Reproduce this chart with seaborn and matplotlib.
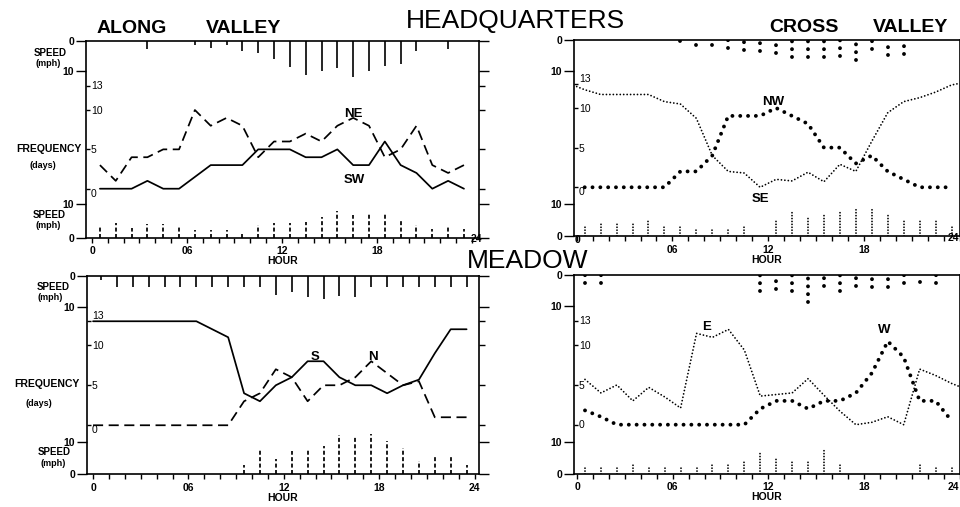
import numpy as np
import matplotlib
matplotlib.use("Agg")
import matplotlib.pyplot as plt
import matplotlib.transforms as mtrans
import seaborn as sns

# observation times, middle of each hour
hours = [0.5, 1.5, 2.5, 3.5, 4.5, 5.5, 6.5, 7.5, 8.5, 9.5, 10.5, 11.5,
         12.5, 13.5, 14.5, 15.5, 16.5, 17.5, 18.5, 19.5, 20.5, 21.5, 22.5, 23.5]
hour_ticks = list(range(25))
hour_names = {0: "0", 6: "06", 12: "12", 18: "18", 24: "24"}

# ---- headquarters, along valley ----
sw_freq = [0, 0, 0, 1, 0, 0, 1.5, 3, 3, 3, 5, 5, 5, 4, 4, 5, 3, 3, 6, 3, 2, 0, 1, 0]
ne_freq = [3, 1, 4, 4, 5, 5, 10, 8, 9, 8, 4, 6, 6, 7, 6, 8, 9, 8, 4, 5, 8, 3, 2, 3]
sw_speed = [0, 0, 0, 2.8, 0, 0, 1.5, 2.4, 1.5, 3.5, 4, 6.2, 8.8, 11.4, 10.3, 9.2,
            12.2, 10.3, 8.5, 7.7, 3.5, 0, 2.6, 0]
ne_speed = [3.3, 4.3, 3.0, 4.1, 4.0, 3.5, 2.3, 2.3, 2.4, 1.2, 3.9, 4.5, 4.5, 4.6,
            6.2, 8.0, 6.8, 7.4, 7.4, 5.1, 3.7, 2.7, 3.6, 2.5]

# ---- headquarters, cross valley ----
nw_freq = [0, 0, 0, 0, 0, 0, 2, 2, 4, 9, 9, 9, 10, 9, 8, 5, 5, 3, 4, 2, 1, 0, 0, 0]
se_hours = [0.0] + hours + [24.0]
se_freq = [12.7, 12.3, 11.7, 11.7, 11.7, 11.7, 10.8, 10.5, 8.7, 4, 2, 1.8, 0, 1,
           0.8, 1.9, 0.7, 2.9, 2, 5.8, 9.4, 10.8, 11.3, 12, 12.9, 13.1]
nw_speed = [0, 0, 0, 0, 0, 0, 0.4, 1.7, 1.5, 2.6, 3.2, 3.4, 4.1, 5.5, 5.5, 5.5,
            5.2, 6.4, 3.0, 4.7, 4.5, 0, 0, 0]
se_speed = [3.6, 3.8, 4.4, 4.4, 4.6, 3.6, 3.1, 2.6, 2.6, 2.1, 3.3, 0, 5.2, 8.0,
            5.7, 7.2, 7.7, 8.8, 9.0, 7.2, 4.8, 4.6, 4.8, 3.3]

# ---- meadow, along valley ----
s_hours = [0.0] + hours
s_freq = [13, 13, 13, 13, 13, 13, 13, 13, 12, 11, 4, 3, 5, 6, 8, 8, 6, 5, 5, 4, 5,
          5.7, 9, 12, 12]
n_hours = [0.0] + hours
n_freq = [0, 0, 0, 0, 0, 0, 0, 0, 0, 0, 3, 4, 7, 6, 3, 5, 5, 6, 8, 6.5, 5, 5.5,
          1, 1, 1]
s_speed = [1.5, 3.5, 3.5, 3.5, 3.5, 3.5, 3.5, 3.5, 3.5, 3.5, 3.5, 6, 5.3, 6.7,
           7.5, 6.5, 6.7, 3.5, 3.5, 3.5, 3.5, 3.5, 3.5, 3.5]
n_speed = [0, 0, 0, 0, 0, 0, 0, 0, 0, 3.0, 7.6, 4.6, 7.3, 7.9, 8.7, 12.1, 11.4,
           12.3, 10.1, 8.1, 4.0, 5.6, 5.3, 3.0]

# ---- meadow, cross valley ----
w_freq = [1.8, 1, 0, 0, 0, 0, 0, 0, 0, 0, 0, 2, 3, 3, 2, 3, 3, 4, 6.5, 10.5, 8.5,
          3, 3, 0.5]
e_hours = hours + [24.0]
e_freq = [5.7, 4, 5, 3, 4.7, 3.5, 2.1, 11.5, 11, 12, 9.4, 3.6, 3.8, 4, 5.8, 3.7,
          1.7, 0, 0.3, 1, 0, 7, 6.2, 5.2, 4.8]
w_speed = [2.6, 2.6, 0, 0, 0, 0, 0, 0, 0, 0, 0, 5.4, 4.6, 5.1, 8.9, 3.7, 5.4, 3.7,
           4.0, 4.1, 2.6, 2.2, 2.6, 0]
e_speed = [2.4, 2.4, 2.4, 3.5, 2.1, 2.4, 2.4, 2.6, 2.9, 2.9, 4.3, 6.8, 5.1, 4.3,
           4.0, 7.7, 3.5, 0, 0, 0, 0, 3.5, 2.4, 2.4]

sns.set_theme(style="ticks", rc={"axes.edgecolor": "black", "text.color": "black",
                                 "xtick.color": "black", "ytick.color": "black",
                                 "axes.labelcolor": "black"})
plt.rcParams["font.family"] = ["Liberation Sans", "DejaVu Sans"]

# line styles
SOLID = dict(color="black", lw=1.25, linestyle="-")
DASHED = dict(color="black", lw=1.25, linestyle=(0, (5.8, 3.2)))
BIGDOT = dict(color="black", lw=2.8, linestyle=(0, (0.01, 2.0)), dash_capstyle="round")
FINEDOT = dict(color="black", lw=1.3, linestyle=(0, (0.01, 1.9)), dash_capstyle="round")
BAR_SOLID = dict(colors="black", linewidths=1.2)
BAR_DASH = dict(colors="black", linewidths=1.25, linestyles=[(0, (2.3, 1.4))])
BAR_BIGDOT = dict(colors="black", linewidths=2.8, linestyles=[(0, (0.01, 2.0))], capstyle="round")
BAR_FINEDOT = dict(colors="black", linewidths=1.3, linestyles=[(0, (0.01, 1.6))], capstyle="round")

W, H = 960, 507
fig = plt.figure(figsize=(W / 100, H / 100), dpi=100)


def frac(l, t, r, b):
    return [l / W, 1 - b / H, (r - l) / W, (b - t) / H]


def ftext(s, x, y, **kw):
    fig.text(x / W, 1 - y / H, s, ha="center", va="baseline", **kw)


def nudge(lab, dx, dy):
    # shift a text by (dx, dy) pixels, dy up
    lab.set_transform(lab.get_transform() +
                      mtrans.ScaledTranslation(dx / 100, dy / 100, fig.dpi_scale_trans))


panels = [
    dict(box=(86, 41, 479, 237.5), xlim=(-0.38, 24.45), flim=(-6.20, 18.77), tlim=66.6, blim=59.5,
         lines=[(hours, ne_freq, DASHED), (hours, sw_freq, SOLID)],
         top=(sw_speed, BAR_SOLID), bottom=(ne_speed, BAR_DASH),
         names=[("NE", 16.5, 9.1), ("SW", 16.6, 0.72)], va13="center", va0="top",
         raised={24: (4, 12, "center")}),
    dict(box=(574, 40, 959.5, 236.3), xlim=(-0.17, 24.0), flim=(-6.18, 18.57), tlim=63.3, blim=60.8,
         lines=[(se_hours, se_freq, FINEDOT), (hours, nw_freq, BIGDOT)],
         top=(nw_speed, BAR_BIGDOT), bottom=(se_speed, BAR_FINEDOT),
         names=[("NW", 12.3, 10.4), ("SE", 11.55, -1.85)], va13="bottom", va0="top",
         raised={0: (1, 10, "center"), 24: (0, 12, "right")}),
    dict(box=(87, 275.5, 479, 474.3), xlim=(-0.38, 24.28), flim=(-6.13, 18.72), tlim=62.5, blim=61.0,
         lines=[(n_hours, n_freq, DASHED), (s_hours, s_freq, SOLID)],
         top=(s_speed, BAR_SOLID), bottom=(n_speed, BAR_DASH),
         names=[("S", 13.96, 8.16), ("N", 17.6, 8.16)], va13="bottom", va0="top",
         raised={}),
    dict(box=(574, 274.7, 959.5, 474), xlim=(-0.19, 24.0), flim=(-6.21, 18.89), tlim=64.3, blim=61.7,
         lines=[(e_hours, e_freq, FINEDOT), (hours, w_freq, BIGDOT)],
         top=(w_speed, BAR_BIGDOT), bottom=(e_speed, BAR_FINEDOT),
         names=[("E", 8.15, 11.93), ("W", 19.3, 11.55)], va13="center", va0="center",
         raised={24: (0, 0, "right")}),
]

for p in panels:
    ax = fig.add_axes(frac(*p["box"]))
    for xs, ys, st in p["lines"]:
        sns.lineplot(x=xs, y=ys, ax=ax, errorbar=None, sort=False, **st)
    ax.set_xlim(*p["xlim"])
    ax.set_ylim(*p["flim"])
    for sp in ax.spines.values():
        sp.set_visible(True)
        sp.set_linewidth(1.2)

    # frequency ticks, labels inside the box
    ax.set_yticks([0, 5, 10, 13], ["0", "5", "10", "13"])
    ax.tick_params(axis="y", direction="in", length=3, width=1, pad=-3.5, labelsize=7.5)
    for lab in ax.get_yticklabels():
        lab.set_ha("left")
        if lab.get_text() == "0":
            lab.set_va(p["va0"])
        elif lab.get_text() == "13":
            lab.set_va(p["va13"])
    sec = ax.secondary_yaxis("right")
    sec.set_yticks([0, 5, 10, 13])
    sec.tick_params(axis="y", direction="out", length=4, width=1, labelright=False)
    sec.spines["right"].set_visible(False)

    ax.set_xticks(hour_ticks, [hour_names.get(h, "") for h in hour_ticks])
    ax.tick_params(axis="x", direction="out", length=3.5, width=1, pad=2.5, labelsize=7.5)
    plt.setp(ax.get_xticklabels(), fontweight="bold")
    ticks = ax.xaxis.get_major_ticks()
    for h, (dx, dy, ha) in p["raised"].items():
        lab = ticks[h].label1
        lab.set_ha(ha)
        nudge(lab, dx, dy)
    ax.set_xlabel("HOUR", fontsize=7.5, fontweight="bold", labelpad=0)
    ax.set_ylabel("")

    for name, hx, fy in p["names"]:
        ax.text(hx, fy, name, ha="center", va="baseline", fontsize=9.5, fontweight="bold")

    # speed scales hanging from the top and rising from the bottom
    axt = ax.twinx()
    axb = ax.twinx()
    axt.set_ylim(p["tlim"], 0)
    axb.set_ylim(0, p["blim"])
    for tw in (axt, axb):
        tw.set_yticks([0, 10], ["0", "10"])
        tw.yaxis.set_ticks_position("both")
        tw.tick_params(axis="y", direction="out", length=7.5, width=1, pad=1, labelsize=7.5,
                       labelleft=True, labelright=False)
        plt.setp(tw.get_yticklabels(), fontweight="bold")
        for sp in tw.spines.values():
            sp.set_visible(False)

    x = np.asarray(hours)
    v, st = p["top"]
    v = np.asarray(v, float)
    axt.vlines(x[v > 0], v[v > 0], 0, **st)
    v, st = p["bottom"]
    v = np.asarray(v, float)
    axb.vlines(x[v > 0], 0, v[v > 0], **st)

# titles
ftext("HEADQUARTERS", 515, 28.3, fontsize=19)
ftext("MEADOW", 528, 267.5, fontsize=19)
ftext("ALONG", 132, 33, fontsize=14, fontweight="bold")
ftext("VALLEY", 244, 33, fontsize=14, fontweight="bold")
ftext("CROSS", 804, 32.3, fontsize=14, fontweight="bold")
ftext("VALLEY", 910.5, 32.3, fontsize=14, fontweight="bold")

# scale captions left of the along-valley panels
side_labels = [
    ("SPEED", 50.5, 56.5, 7), ("(mph)", 48, 65.5, 6.5),
    ("FREQUENCY", 48.5, 152, 7.5), ("(days)", 42.5, 168.5, 6.5),
    ("SPEED", 49.5, 217.5, 7), ("(mph)", 48, 227.5, 6.5),
    ("SPEED", 53, 289.5, 7), ("(mph)", 50, 300, 6.5),
    ("FREQUENCY", 47, 387, 7.5), ("(days)", 39, 405.5, 6.5),
    ("SPEED", 54, 455, 7), ("(mph)", 53, 465.5, 6.5),
]
for s, x, y, fs in side_labels:
    ftext(s, x, y, fontsize=fs, fontweight="bold")

fig.savefig("out.png", dpi=100)
